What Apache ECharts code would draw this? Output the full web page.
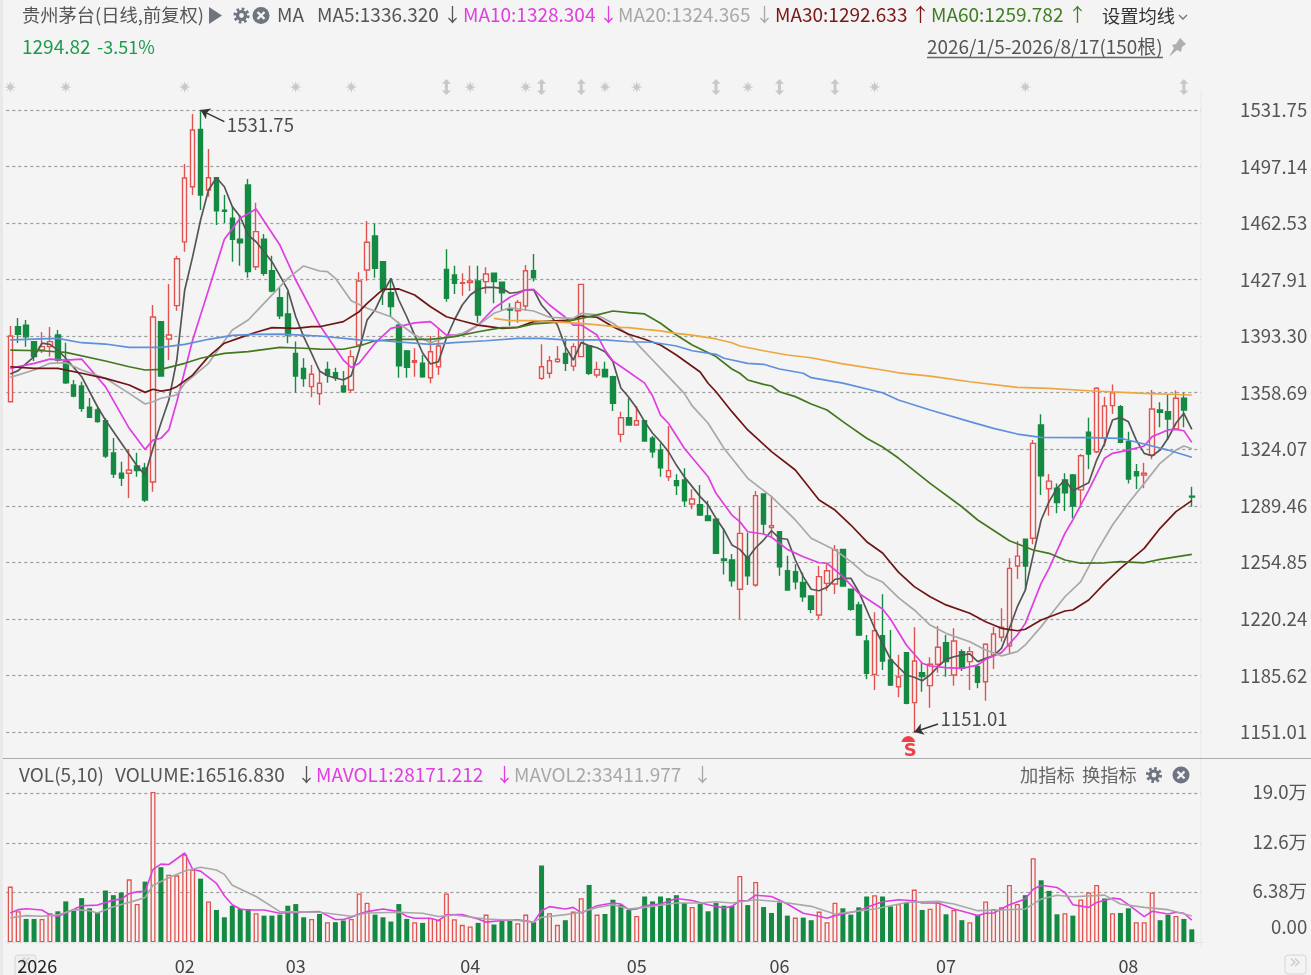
<!DOCTYPE html>
<html><head><meta charset="utf-8">
<style>html,body{margin:0;padding:0;background:#f4f4f4;overflow:hidden}#c{width:1311px;height:975px}</style>
<script src="https://cdn.jsdelivr.net/npm/echarts@6/dist/echarts.min.js"></script>
</head><body><div id="c"></div>
<script>
// months and how many trading days each holds
const monthLabels=['2026','02','03','04','05','06','07','08'];
const monthCounts=[22,14,22,21,18,21,23,9];
const priceTicks=[1151.01,1185.62,1220.24,1254.85,1289.46,1324.07,1358.69,1393.30,1427.91,1462.53,1497.14,1531.75];
const volTicks=[0,6.38,12.6,19.0];
const volTickLabels=['0.00','6.38万','12.6万','19.0万'];
// [open, close, low, high]
const candles=[
[1353.2,1393.4,1353.2,1399.5],[1399.1,1394.4,1389.1,1404.4],[1400.1,1392.9,1386.9,1403.2],[1390.0,1380.8,1378.1,1390.4],[1384.8,1386.9,1383.0,1395.9],
[1386.9,1390.0,1380.8,1398.9],[1394.0,1378.7,1377.7,1397.1],[1377.7,1364.8,1364.0,1389.3],[1363.4,1356.7,1355.9,1366.5],[1362.8,1349.2,1347.1,1365.4],
[1349.8,1343.6,1343.2,1355.5],[1348.1,1341.0,1340.3,1349.3],[1341.6,1320.0,1318.7,1343.2],[1321.8,1308.9,1306.5,1331.0],[1309.4,1306.5,1301.6,1316.5],
[1309.4,1311.4,1294.2,1324.2],[1313.8,1311.0,1307.3,1322.0],[1312.6,1293.0,1291.8,1315.7],[1304.0,1405.0,1298.1,1412.4],[1402.2,1368.9,1368.6,1402.5],
[1391.6,1394.0,1378.7,1425.2],[1412.0,1440.7,1408.9,1442.6],[1451.0,1490.1,1445.0,1498.7],[1484.8,1519.5,1479.7,1529.3],[1519.9,1479.7,1470.5,1531.75],
[1482.8,1490.3,1478.7,1507.9],[1490.3,1470.0,1461.4,1490.6],[1470.4,1469.7,1462.6,1479.7],[1465.5,1452.6,1438.9,1473.0],[1452.6,1450.5,1436.4,1467.5],
[1485.8,1432.8,1429.1,1489.5],[1435.8,1457.3,1433.8,1475.0],[1452.6,1431.8,1430.3,1455.8],[1433.4,1421.0,1420.2,1442.6],[1416.9,1405.8,1403.8,1423.2],
[1406.9,1394.0,1389.0,1420.5],[1382.8,1368.9,1358.9,1390.0],[1373.6,1367.3,1362.4,1379.8],[1362.4,1370.0,1355.9,1375.7],[1358.2,1364.5,1351.2,1372.3],
[1373.0,1369.5,1364.8,1377.7],[1370.9,1367.9,1365.9,1374.0],[1362.8,1359.3,1358.7,1372.0],[1360.4,1380.8,1358.7,1384.8],[1387.9,1427.1,1387.5,1432.4],
[1433.8,1450.8,1427.3,1463.8],[1454.6,1434.9,1429.1,1462.4],[1438.9,1422.2,1412.4,1439.2],[1419.9,1411.4,1405.2,1428.7],[1400.1,1375.2,1367.9,1402.2],
[1384.2,1374.2,1367.9,1384.8],[1377.3,1378.3,1368.5,1385.9],[1376.7,1368.5,1367.9,1381.8],[1367.9,1383.8,1364.5,1393.4],[1374.6,1387.3,1369.5,1398.1],
[1434.2,1416.5,1414.4,1446.5],[1430.8,1425.7,1419.1,1436.4],[1425.7,1426.1,1418.1,1431.8],[1426.1,1427.1,1421.0,1436.4],[1427.1,1406.3,1401.6,1436.4],
[1426.7,1431.4,1419.5,1435.5],[1431.8,1426.7,1413.4,1432.1],[1426.3,1419.9,1409.3,1426.6],[1409.9,1409.3,1399.7,1413.4],[1408.9,1414.0,1401.6,1415.45],
[1411.8,1433.4,1408.7,1436.9],[1433.4,1429.1,1426.7,1443.6],[1367.5,1374.6,1366.5,1388.3],[1370.6,1378.3,1367.5,1381.2],[1377.7,1379.2,1377.1,1387.3],
[1382.8,1376.7,1372.0,1392.0],[1375.0,1386.9,1372.0,1389.0],[1380.8,1425.0,1380.5,1425.3],[1387.3,1370.6,1369.5,1387.6],[1369.5,1373.0,1367.9,1377.7],
[1373.0,1368.5,1368.2,1377.7],[1368.5,1352.2,1347.5,1369.1],[1333.2,1343.4,1328.3,1347.1],[1343.4,1338.9,1338.5,1355.3],[1338.9,1341.6,1338.5,1350.6],
[1341.6,1329.1,1328.8,1341.9],[1330.8,1322.6,1318.9,1332.2],[1323.6,1312.8,1307.3,1327.7],[1307.3,1311.0,1304.6,1338.3],[1304.8,1301.8,1296.1,1308.8],
[1305.3,1292.6,1288.9,1312.4],[1290.6,1293.6,1287.3,1299.6],[1290.2,1283.8,1283.2,1302.2],[1283.2,1280.4,1280.1,1292.6],[1281.2,1260.4,1260.1,1281.5],
[1256.9,1255.9,1247.5,1275.7],[1256.3,1243.6,1240.0,1260.0],[1238.4,1272.6,1220.2,1288.9],[1258.3,1246.7,1241.0,1273.0],[1241.0,1295.7,1240.0,1298.5],
[1296.7,1278.3,1272.2,1297.0],[1276.1,1277.3,1270.6,1295.7],[1273.6,1252.2,1246.7,1273.9],[1249.7,1237.9,1237.5,1258.9],[1249.1,1243.0,1238.4,1253.7],
[1242.6,1233.8,1230.8,1248.5],[1234.3,1226.1,1223.7,1234.6],[1222.6,1246.1,1220.2,1252.6],[1242.0,1249.7,1237.5,1253.7],[1241.6,1262.4,1235.5,1265.5],
[1262.8,1240.4,1240.1,1263.1],[1238.4,1226.1,1225.3,1238.7],[1228.8,1210.4,1209.8,1230.8],[1206.7,1186.9,1183.3,1210.4],[1186.3,1213.0,1176.7,1224.3],
[1210.0,1194.5,1189.0,1235.3],[1195.1,1179.8,1179.2,1213.4],[1178.7,1184.7,1172.3,1198.3],[1199.6,1168.6,1168.0,1199.9],[1169.0,1194.5,1151.01,1215.1],
[1187.3,1184.9,1175.7,1193.4],[1179.4,1192.5,1165.9,1196.7],[1192.5,1202.9,1187.3,1215.9],[1205.7,1194.1,1184.9,1210.4],[1185.9,1206.7,1179.4,1214.5],
[1200.2,1190.0,1188.4,1201.6],[1194.1,1200.2,1176.7,1203.2],[1191.0,1181.4,1177.8,1192.6],[1181.8,1204.7,1170.2,1205.3],[1198.1,1211.0,1189.6,1215.5],
[1209.0,1215.1,1206.3,1226.7],[1203.8,1251.2,1198.8,1257.3],[1252.6,1258.7,1244.7,1267.9],[1269.1,1252.6,1237.9,1269.4],[1269.6,1327.7,1265.9,1329.8],
[1338.9,1307.9,1296.1,1345.5],[1299.9,1304.6,1283.4,1308.9],[1300.2,1291.4,1284.9,1303.2],[1305.3,1297.5,1286.3,1309.4],[1308.3,1289.3,1281.8,1308.9],
[1299.2,1320.1,1288.3,1321.2],[1334.5,1321.2,1312.0,1343.4],[1322.6,1361.4,1321.6,1362.0],[1330.8,1350.6,1325.7,1356.3],[1350.8,1358.7,1345.7,1363.8],
[1350.2,1328.3,1327.7,1351.2],[1328.7,1305.9,1303.2,1334.8],[1310.4,1307.9,1299.8,1315.0],[1308.3,1309.4,1300.2,1315.8],[1320.6,1348.7,1317.9,1360.4],
[1348.1,1346.7,1337.5,1352.8],[1347.1,1342.6,1329.7,1357.3],[1336.5,1355.3,1335.9,1360.0],[1355.3,1348.1,1337.5,1358.7],[1295.3,1294.82,1288.9,1301.2]];
// volume in 万
const volumes=[7.08,3.94,2.97,2.97,2.97,3.69,3.94,5.20,4.02,5.61,4.32,3.81,6.58,5.99,6.33,8.00,4.86,7.71,19.1,9.55,8.59,8.51,11.15,9.26,8.09,5.20,4.11,3.18,4.65,4.23,4.23,3.69,3.39,3.39,3.52,4.65,4.86,3.18,2.97,3.60,2.56,2.56,2.77,2.97,6.20,5.03,3.52,3.18,2.64,4.86,2.97,2.56,2.47,3.10,2.85,6.20,2.93,2.22,2.01,2.47,3.52,2.26,2.85,2.77,2.43,3.52,2.56,9.76,3.69,2.22,2.81,3.90,5.61,7.29,3.52,3.60,5.41,4.78,4.11,3.35,5.82,5.20,5.82,5.61,5.99,4.99,4.48,4.86,3.94,4.99,4.65,4.61,8.42,4.73,7.67,4.48,3.73,5.07,3.39,3.14,3.14,2.81,3.90,2.56,5.03,4.32,3.52,4.44,5.82,5.99,5.82,4.57,4.86,5.07,6.70,4.11,4.27,5.07,3.56,4.11,2.81,2.56,3.48,5.20,4.23,4.44,7.29,4.86,5.99,10.68,7.88,6.54,3.56,3.69,3.39,5.45,6.33,7.29,5.57,3.69,3.73,4.32,2.56,2.56,6.33,2.81,3.48,3.35,2.97,1.65];
// 1 = red (hollow) bar, 0 = green bar
const volUp=[1,1,0,0,1,1,0,0,0,0,0,0,0,0,0,1,1,0,1,0,1,1,1,1,0,1,0,0,0,0,0,1,0,0,0,0,0,0,1,0,1,0,0,1,1,1,0,0,0,0,0,1,0,1,1,1,1,1,1,0,1,0,0,0,1,1,0,0,1,1,0,1,1,0,1,0,0,0,0,1,0,0,0,0,0,0,1,0,0,0,0,0,1,0,1,0,0,0,0,1,0,0,1,1,1,0,0,0,0,1,0,0,1,0,1,0,1,1,0,1,0,1,0,1,1,1,1,1,0,1,0,0,0,1,0,1,1,1,0,1,0,0,1,1,1,0,0,1,0,0];
const ma5=[[0,1370.2],[1,1372.2],[3,1380.8],[4,1389.0],[5,1388.3],[6,1384.8],[7,1379.8],[9,1368.5],[11,1350.1],[12,1342.0],[14,1327.9],[16,1313.8],[17,1308.3],[18,1324.7],[19,1340.0],[20,1354.2],[21,1378.7],[22,1421.6],[23,1442.0],[24,1464.4],[25,1482.8],[26,1490.3],[27,1484.8],[28,1472.6],[29,1466.4],[30,1455.2],[31,1451.1],[32,1445.0],[33,1438.9],[35,1421.6],[36,1405.2],[37,1393.0],[38,1382.8],[39,1372.0],[40,1369.1],[41,1367.7],[42,1366.5],[43,1369.1],[44,1384.8],[45,1403.2],[46,1409.3],[47,1419.7],[48,1428.7],[49,1415.45],[50,1405.2],[51,1394.0],[52,1383.0],[53,1376.3],[54,1377.7],[55,1392.2],[56,1403.2],[57,1412.4],[58,1418.5],[59,1422.0],[60,1423.2],[61,1423.2],[62,1422.6],[63,1419.6],[64,1420.2],[65,1421.6],[66,1421.6],[67,1412.4],[68,1406.9],[69,1400.1],[70,1386.9],[71,1378.7],[72,1389.5],[73,1387.5],[74,1386.2],[75,1383.8],[76,1377.7],[77,1361.6],[78,1355.9],[79,1349.2],[80,1341.0],[81,1333.9],[82,1328.7],[83,1322.6],[84,1314.4],[85,1307.3],[86,1301.2],[87,1295.1],[88,1290.0],[89,1281.8],[90,1274.7],[91,1265.5],[92,1262.8],[93,1257.3],[94,1263.8],[95,1268.5],[96,1274.2],[97,1269.6],[98,1269.0],[99,1256.3],[100,1246.1],[101,1238.4],[102,1237.5],[103,1239.6],[104,1244.5],[105,1245.1],[106,1245.1],[107,1236.9],[108,1225.7],[109,1214.5],[110,1205.3],[111,1195.7],[112,1190.8],[113,1185.9],[114,1184.5],[115,1182.4],[116,1185.9],[117,1191.0],[118,1195.5],[119,1197.1],[120,1198.1],[121,1198.8],[122,1194.1],[123,1196.1],[124,1197.7],[125,1202.2],[126,1214.5],[127,1227.7],[128,1237.9],[129,1259.4],[130,1280.8],[131,1292.0],[132,1300.2],[133,1305.3],[134,1298.7],[135,1301.2],[136,1303.6],[137,1317.5],[138,1327.7],[139,1342.0],[140,1343.6],[141,1341.0],[142,1329.7],[143,1321.6],[144,1320.0],[145,1323.6],[146,1330.8],[147,1340.0],[148,1346.1],[149,1336.32]];
const ma10=[[0,1373.6],[3,1376.7],[5,1379.3],[7,1378.7],[9,1379.3],[12,1362.4],[15,1336.9],[17,1324.0],[18,1329.7],[19,1330.8],[20,1335.9],[21,1353.2],[23,1391.0],[25,1421.6],[27,1452.6],[29,1465.5],[31,1471.1],[34,1449.1],[36,1427.7],[39,1400.1],[42,1378.7],[43,1374.2],[44,1376.7],[46,1389.0],[48,1398.1],[51,1401.4],[53,1402.2],[55,1394.0],[57,1394.0],[59,1400.1],[61,1410.4],[63,1417.1],[65,1421.6],[66,1422.0],[68,1412.4],[70,1404.9],[71,1400.1],[72,1400.1],[74,1394.0],[75,1384.8],[76,1378.1],[78,1371.4],[80,1364.6],[81,1356.7],[82,1345.0],[83,1340.0],[85,1324.7],[88,1307.3],[89,1297.1],[91,1283.8],[92,1279.8],[93,1273.6],[95,1272.2],[96,1270.2],[98,1262.8],[100,1258.3],[102,1254.6],[103,1254.3],[105,1246.1],[107,1235.9],[110,1226.3],[111,1220.2],[113,1204.3],[115,1193.1],[116,1191.4],[118,1190.4],[120,1190.0],[122,1192.0],[123,1195.5],[125,1199.6],[127,1210.4],[128,1217.5],[130,1242.0],[131,1251.2],[133,1272.6],[134,1280.8],[136,1299.1],[138,1318.6],[139,1321.6],[141,1323.6],[143,1326.1],[144,1331.8],[146,1335.9],[147,1336.3],[148,1335.4],[149,1328.304]];
const ma20=[[0,1368.1],[3,1372.6],[5,1376.7],[7,1377.1],[9,1372.6],[12,1367.5],[15,1358.3],[17,1351.8],[18,1353.2],[19,1355.3],[21,1357.3],[22,1364.5],[25,1376.7],[28,1397.1],[30,1403.2],[32,1413.4],[35,1428.7],[37,1436.3],[39,1433.2],[40,1432.8],[41,1428.7],[43,1415.0],[45,1410.4],[48,1405.2],[49,1401.2],[51,1394.0],[53,1389.3],[55,1392.6],[57,1395.0],[59,1400.1],[61,1407.3],[63,1410.7],[66,1408.7],[68,1404.9],[71,1404.2],[72,1407.3],[74,1406.3],[76,1401.2],[78,1394.0],[79,1388.9],[81,1378.7],[83,1368.5],[85,1358.3],[86,1350.6],[88,1340.0],[90,1324.7],[93,1306.3],[96,1295.1],[99,1280.8],[101,1269.6],[104,1262.4],[106,1255.3],[108,1247.1],[110,1242.8],[112,1233.3],[114,1225.7],[116,1216.5],[118,1211.4],[121,1206.3],[123,1201.2],[125,1197.6],[127,1200.2],[128,1204.3],[130,1215.5],[132,1227.7],[133,1233.8],[135,1243.0],[137,1261.4],[139,1277.7],[141,1291.0],[143,1303.2],[145,1315.5],[147,1323.6],[148,1326.1],[149,1324.365]];
const ma30=[[0,1374.6],[3,1373.6],[6,1373.6],[9,1370.6],[12,1367.5],[15,1363.4],[17,1358.9],[18,1360.8],[19,1359.7],[20,1360.4],[21,1362.4],[23,1369.5],[25,1380.8],[27,1389.0],[29,1392.4],[31,1395.7],[33,1398.5],[36,1398.1],[38,1399.1],[39,1399.1],[42,1402.2],[44,1408.3],[45,1413.4],[47,1422.0],[49,1422.2],[51,1418.5],[53,1411.3],[55,1405.2],[57,1402.6],[59,1400.1],[62,1398.1],[64,1398.7],[66,1402.2],[68,1402.6],[71,1403.2],[72,1405.6],[74,1404.9],[76,1399.1],[78,1394.5],[80,1391.4],[82,1387.9],[84,1381.8],[87,1371.4],[88,1364.5],[89,1359.3],[91,1347.1],[93,1335.9],[96,1322.6],[99,1311.4],[102,1293.0],[104,1286.9],[106,1277.7],[108,1267.5],[110,1260.6],[112,1248.9],[114,1240.0],[116,1233.8],[118,1228.8],[121,1223.7],[123,1218.5],[125,1214.5],[127,1213.0],[128,1213.9],[130,1219.6],[133,1225.1],[134,1225.7],[136,1231.8],[138,1242.0],[140,1251.2],[143,1263.4],[145,1275.7],[147,1285.9],[149,1292.633]];
const ma60=[[0,1384.8],[4,1384.4],[7,1383.4],[12,1378.1],[15,1374.6],[17,1372.6],[19,1373.0],[22,1376.7],[24,1379.8],[27,1382.8],[30,1383.8],[34,1386.5],[37,1385.9],[39,1385.4],[42,1385.3],[44,1387.3],[46,1390.5],[49,1391.4],[53,1391.4],[56,1393.0],[59,1396.0],[62,1398.5],[64,1398.7],[66,1400.8],[70,1402.2],[72,1404.2],[74,1406.3],[76,1408.7],[78,1407.7],[80,1406.9],[82,1401.2],[84,1394.0],[86,1387.9],[89,1380.8],[91,1373.2],[92,1370.6],[93,1366.5],[95,1363.8],[96,1362.8],[97,1359.3],[99,1356.3],[101,1351.8],[103,1348.1],[105,1341.0],[108,1330.8],[110,1325.5],[112,1318.7],[116,1303.2],[120,1288.9],[122,1280.8],[126,1268.1],[129,1262.4],[131,1260.4],[133,1256.3],[135,1254.3],[138,1254.6],[140,1255.3],[143,1254.6],[145,1256.7],[149,1259.782]];
const maBlue=[[0,1391.0],[6,1392.0],[9,1389.3],[12,1388.5],[15,1386.5],[19,1386.5],[22,1388.3],[25,1391.4],[28,1393.8],[31,1394.4],[34,1394.6],[38,1393.6],[39,1393.4],[44,1391.0],[47,1390.5],[53,1388.3],[56,1389.3],[60,1390.5],[64,1392.0],[67,1392.0],[70,1391.0],[75,1391.0],[78,1389.9],[81,1389.6],[84,1387.3],[86,1384.4],[89,1382.2],[90,1379.8],[93,1376.7],[95,1376.1],[97,1373.2],[100,1370.6],[101,1367.9],[105,1364.6],[110,1358.7],[112,1354.2],[116,1348.1],[121,1341.0],[124,1336.9],[127,1333.4],[130,1331.4],[136,1331.2],[140,1330.8],[143,1327.3],[146,1323.6],[149,1319.2]];
const maOrange=[[61,1404.2],[63,1402.8],[66,1402.8],[72,1401.2],[75,1399.8],[77,1398.7],[78,1398.5],[80,1397.5],[82,1396.6],[84,1395.0],[86,1394.0],[89,1391.6],[91,1389.3],[92,1387.3],[95,1384.4],[98,1381.8],[101,1380.1],[105,1376.3],[110,1372.6],[112,1370.9],[116,1368.9],[121,1365.4],[127,1362.0],[131,1361.4],[136,1359.9],[143,1358.3],[149,1357.3]];
const mavol1=[[0,3.73],[1,4.15],[2,4.27],[4,4.11],[5,3.48],[6,3.31],[7,3.73],[9,4.65],[11,4.73],[13,5.36],[14,5.49],[15,6.20],[16,6.41],[17,6.49],[18,9.26],[19,9.93],[20,9.89],[22,11.35],[23,9.26],[24,9.05],[26,7.50],[27,5.91],[28,4.78],[29,4.23],[30,4.11],[32,4.11],[34,3.69],[35,3.77],[39,3.90],[41,2.89],[42,2.89],[43,3.18],[44,3.60],[45,3.90],[47,4.23],[49,3.90],[50,3.31],[51,3.06],[53,3.06],[54,2.77],[55,3.48],[57,3.52],[59,2.97],[60,2.56],[62,2.77],[64,2.85],[66,2.56],[67,4.02],[68,4.53],[70,4.23],[71,4.44],[72,3.73],[74,4.65],[76,4.99],[77,4.86],[78,4.15],[79,4.23],[80,4.65],[82,4.86],[84,5.57],[86,5.32],[88,4.78],[90,4.36],[91,4.57],[92,5.28],[93,5.28],[94,5.99],[96,5.82],[98,4.86],[100,3.69],[102,3.31],[103,3.06],[104,3.39],[105,3.60],[107,4.02],[108,4.44],[110,5.15],[112,5.41],[114,5.28],[115,4.99],[117,4.99],[119,4.23],[121,3.69],[122,3.39],[123,3.69],[124,3.73],[126,4.78],[128,5.49],[129,6.75],[130,7.25],[132,6.96],[133,6.33],[134,4.78],[136,4.44],[137,5.07],[139,5.61],[140,5.49],[141,4.78],[143,3.27],[144,3.94],[146,3.60],[147,3.81],[148,3.69],[149,2.817]];
const mavol2=[[0,3.10],[2,3.39],[4,3.31],[6,3.48],[8,4.15],[10,4.02],[11,3.73],[13,4.53],[16,5.36],[17,5.70],[18,7.25],[20,8.21],[22,9.05],[24,9.55],[26,9.18],[27,8.63],[28,7.25],[31,5.82],[34,3.90],[39,3.81],[43,3.31],[45,3.73],[49,3.81],[52,3.69],[54,3.27],[56,3.48],[60,2.97],[64,2.77],[66,2.56],[67,3.18],[70,3.52],[72,3.81],[74,4.44],[76,4.78],[78,4.23],[80,4.44],[84,4.99],[87,4.99],[89,5.15],[91,4.99],[94,5.41],[97,5.15],[101,4.57],[104,3.60],[105,3.73],[109,4.23],[113,5.07],[117,5.20],[119,4.86],[122,4.02],[125,4.11],[128,4.23],[130,5.49],[132,5.99],[134,5.78],[138,5.99],[140,4.86],[143,4.44],[146,4.15],[149,3.341]];
// candles with the grey notice badges above the chart
const starEvents=[0,7,22,36,43,58,65,75,79,93,109,128];
const gapEvents=[55,67,72,89,97,104,148];
const badgeLevel=1545.8;
const highMark={index:24,value:1531.75,text:'1531.75'};
const lowMark={index:114,value:1151.01,text:'1151.01'};
const sellMark=[[113,1146.7]];

const FONT='"Noto Sans CJK SC","Noto Sans",sans-serif';
const BG='#f4f4f4',RED='#e2534f',GREEN='#148a42';
const categories=[];
monthCounts.forEach((n,m)=>{for(let d=1;d<=n;d++)categories.push(monthLabels[m]+'#'+d);});
categories.push('');

const lineS=(name,data,color,xi,w)=>({name,type:'line',data,xAxisIndex:xi,yAxisIndex:xi,symbol:'none',silent:true,
  lineStyle:{color,width:w},z:5});
const T=(text,x,y,fill,opt)=>Object.assign({type:'text',silent:true,z:50,style:Object.assign({text,x,y,fill,font:'19px '+FONT,textVerticalAlign:'middle',textAlign:'left'},opt||{})});
const CN={font:'18.3px '+FONT};
const closeIcon=(cx,cy)=>([
  {type:'circle',shape:{cx,cy,r:8.5},style:{fill:'#6f7480'},silent:true,z:50},
  {type:'line',shape:{x1:cx-3.5,y1:cy-3.5,x2:cx+3.5,y2:cy+3.5},style:{stroke:BG,lineWidth:2.4},silent:true,z:51},
  {type:'line',shape:{x1:cx+3.5,y1:cy-3.5,x2:cx-3.5,y2:cy+3.5},style:{stroke:BG,lineWidth:2.4},silent:true,z:51}]);
const gearIcon=(cx,cy)=>([
  {type:'circle',shape:{cx,cy,r:6.6},style:{fill:'none',stroke:'#6f7480',lineWidth:3,lineDash:[2.6,2.58]},silent:true,z:50},
  {type:'circle',shape:{cx,cy,r:4},style:{fill:BG,stroke:'#6f7480',lineWidth:3.2},silent:true,z:51}]);
const graphics=[
  {type:'rect',shape:{x:1201,y:60,width:6,height:890},style:{fill:BG},silent:true,z:40},
  {type:'line',shape:{x1:1201,y1:90,x2:1201,y2:947},style:{stroke:'#e9e9e9',lineWidth:1},silent:true,z:41},
  {type:'rect',shape:{x:0,y:0,width:3,height:975},style:{fill:'#e9e9e9'},silent:true,z:41},
  {type:'line',shape:{x1:3,y1:758.5,x2:1311,y2:758.5},style:{stroke:'#aaaaaa',lineWidth:1},silent:true,z:41},
  T('贵州茅台(日线,前复权)',22,15,'#555',CN),
  {type:'polygon',shape:{points:[[209,7],[209,24],[222,15.5]]},style:{fill:'#6f7480'},silent:true,z:50},
  ...gearIcon(241.5,15.5),
  ...closeIcon(261,15.5),
  T('MA',277,15,'#555'),
  T('MA5:1336.320',317,15,'#555'),T('↓',443,15,'#555'),
  T('MA10:1328.304',463,15,'#e03ee0'),T('↓',599,15,'#e03ee0'),
  T('MA20:1324.365',618,15,'#a8a8a8'),T('↓',755,15,'#a8a8a8'),
  T('MA30:1292.633',775,15,'#7a1818'),T('↑',911,15,'#7a1818'),
  T('MA60:1259.782',931,15,'#3f7f22'),T('↑',1068,15,'#3f7f22'),
  T('设置均线',1102,16,'#333',CN),
  {type:'polyline',shape:{points:[[1179,15],[1183,19],[1187,15]]},style:{stroke:'#777',fill:'none',lineWidth:1.4},silent:true,z:50},
  T('1294.82',22,47,'#1f9a4d'),T('-3.51%',97,47,'#1f9a4d',{font:'18px '+FONT}),
  T('2026/1/5-2026/8/17(150根)',927,47,'#555',{font:'18.9px '+FONT}),
  {type:'line',shape:{x1:927,y1:57.5,x2:1163,y2:57.5},style:{stroke:'#666',lineWidth:1.5},silent:true,z:50},
  {type:'polygon',shape:{points:[[1180,38],[1186,44],[1182,47],[1181,52],[1177,50],[1169,57],[1174,48],[1172,45],[1176,44]]},style:{fill:'#aeaeae'},silent:true,z:50},
  T('VOL(5,10)',19,775,'#555'),
  T('VOLUME:16516.830',115,775,'#555'),T('↓',297,775,'#555'),
  T('MAVOL1:28171.212',316,775,'#e03ee0'),T('↓',495,775,'#e03ee0'),
  T('MAVOL2:33411.977',514,775,'#a8a8a8'),T('↓',693,775,'#a8a8a8'),
  T('加指标',1020,775,'#666',CN),T('换指标',1082,775,'#666',CN),
  ...gearIcon(1154,775),
  ...closeIcon(1181,775),
  {type:'rect',shape:{x:15,y:955,width:21,height:24,r:3},style:{fill:'#efefef',stroke:'#d6d6d6'},silent:true,z:-1},
  T('«',19,962,'#cfcfcf',{font:'20px "DejaVu Sans"'}),
  {type:'rect',shape:{x:1285,y:955,width:21,height:19,r:3},style:{fill:'#f4f4f4',stroke:'#d6d6d6'},silent:true,z:2},
  T('»',1289,963,'#cfcfcf',{font:'20px "DejaVu Sans"'})
];
graphics.filter(g=>g.style&&g.style.text==='«')[0].z=-1;
const starPath='path://M12 0 L14 8 L20 3 L16 10 L24 12 L16 14 L20 21 L14 16 L12 24 L10 16 L4 21 L8 14 L0 12 L8 10 L4 3 L10 8 Z';
const gapPath='path://M6 0 L12 7 L8 7 L8 17 L12 17 L6 24 L0 17 L4 17 L4 7 L0 7 Z';
const splitLine={show:true,lineStyle:{color:'#9c9c9c',type:[3,3],width:1.2}};
const monthStarts=monthCounts.reduce((a,n,i)=>{a.push(i===0?0:a[i-1]+monthCounts[i-1]);return a;},[]);
const option={
  animation:false,backgroundColor:BG,
  graphic:graphics,
  grid:[{left:6.3,width:1197.4,top:78,height:680},{left:6.3,width:1197.4,top:760,height:187}],
  xAxis:[
    {type:'category',gridIndex:0,data:categories,boundaryGap:true,axisLine:{show:false},axisTick:{show:false},axisLabel:{show:false},splitLine:{show:false}},
    {type:'category',gridIndex:1,z:60,data:categories,boundaryGap:true,axisLine:{show:true,lineStyle:{color:'#e6e6e6'}},axisTick:{show:false},splitLine:{show:false},
     axisLabel:{color:'#444',fontFamily:FONT,fontSize:18,margin:11,showMinLabel:true,
       interval:(i)=>monthStarts.indexOf(i)>=0,
       formatter:(v)=>{const s=v.split('#')[0];return s==='2026'?'{y|2026}':s;},
       rich:{y:{color:'#222',fontFamily:FONT,fontSize:18,padding:[0,0,0,54]}}}}
  ],
  yAxis:[
    {type:'value',gridIndex:0,position:'right',min:1135.1,max:1551.34,scale:true,axisLine:{show:false},
     axisTick:{show:false,customValues:priceTicks},splitLine,
     axisLabel:{customValues:priceTicks,align:'right',margin:103.5,color:'#555',fontFamily:FONT,fontSize:18.6,padding:[0,0,2,0],
       formatter:(v)=>v.toFixed(2)}},
    {type:'value',gridIndex:1,position:'right',min:-0.47,max:23.17,axisLine:{show:false},
     axisTick:{show:false,customValues:volTicks},splitLine,
     axisLabel:{customValues:volTicks,align:'right',margin:103.5,color:'#555',fontFamily:FONT,fontSize:18.6,padding:[0,0,2,0],
       formatter:(v)=>{const t=volTickLabels[volTicks.indexOf(v)];return v===0?'{z|'+t+'}':t;},
       rich:{z:{color:'#555',fontFamily:FONT,fontSize:18.6,padding:[0,0,28,0]}}}}
  ],
  series:[
    {type:'candlestick',name:'K',xAxisIndex:0,yAxisIndex:0,data:candles,barWidth:5,silent:true,z:3,
     itemStyle:{color:BG,color0:GREEN,borderColor:RED,borderColor0:GREEN,borderWidth:1.4},
     markLine:{silent:true,animation:false,symbol:['arrow','none'],symbolSize:9,precision:2,label:{show:false},
       lineStyle:{color:'#333',width:1.4,type:'solid'},
       data:[[{coord:[highMark.index,highMark.value]},{coord:[highMark.index+3,1524.6]}],
             [{coord:[lowMark.index,lowMark.value]},{coord:[lowMark.index+3,1155.9]}]]}},
    lineS('MA5',ma5,'#555555',0,1.7),
    lineS('MA10',ma10,'#e03ee0',0,1.7),
    lineS('MA20',ma20,'#a8a8a8',0,1.7),
    lineS('MA30',ma30,'#6e1616',0,1.7),
    lineS('MA60',ma60,'#44781f',0,1.7),
    lineS('MAB',maBlue,'#5f90dc',0,1.7),
    lineS('MAO',maOrange,'#eda73f',0,1.7),
    {type:'scatter',name:'star',xAxisIndex:0,yAxisIndex:0,silent:true,symbol:starPath,symbolSize:12,itemStyle:{color:'#bdbdbd'},
     data:starEvents.map(i=>[i,badgeLevel]),z:6},
    {type:'scatter',name:'gap',xAxisIndex:0,yAxisIndex:0,silent:true,symbol:gapPath,symbolSize:[9,16],itemStyle:{color:'#bdbdbd'},
     data:gapEvents.map(i=>[i,badgeLevel]),z:6},
    {type:'scatter',name:'sell',xAxisIndex:0,yAxisIndex:0,silent:true,symbol:'path://M0 6 C2 1 10 1 12 6 Z',symbolSize:[14,6],symbolOffset:[2,0],itemStyle:{color:'#e8141c'},
     data:sellMark,z:7,label:{show:true,position:'bottom',distance:0,offset:[2,0],formatter:'S',color:'#e8141c',fontWeight:'bold',fontSize:18,fontFamily:'"DejaVu Sans"'}},
    {type:'scatter',name:'notes',xAxisIndex:0,yAxisIndex:0,silent:true,symbolSize:1,itemStyle:{color:'rgba(0,0,0,0)'},z:7,
     data:[[highMark.index+3,1522.6],[lowMark.index+3,1159.0]],
     label:{show:true,position:'right',distance:2,color:'#222',fontFamily:FONT,fontSize:18.6,
       formatter:(p)=>p.dataIndex===0?highMark.text:lowMark.text}},
    {type:'bar',name:'VOL',xAxisIndex:1,yAxisIndex:1,barWidth:5,silent:true,z:3,
     data:volumes.map((v,i)=>({value:v,itemStyle:volUp[i]?{color:BG,borderColor:RED,borderWidth:1.3}:{color:GREEN}}))},
    lineS('MAVOL1',mavol1,'#e03ee0',1,1.6),
    lineS('MAVOL2',mavol2,'#a8a8a8',1,1.6)
  ]
};
echarts.init(document.getElementById('c'),null,{renderer:'canvas'}).setOption(option);
</script></body></html>
